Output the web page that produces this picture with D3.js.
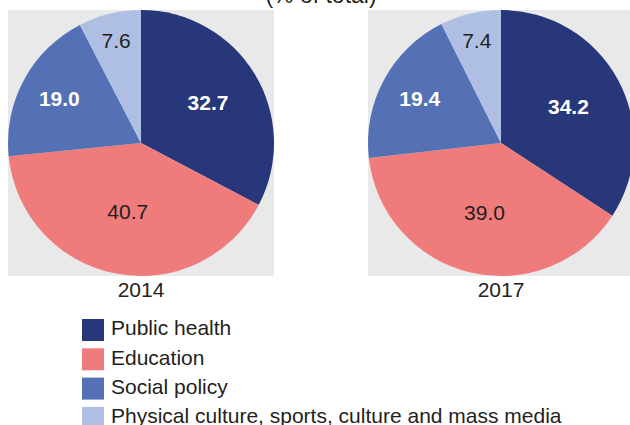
<!DOCTYPE html>
<html>
<head>
<meta charset="utf-8">
<script src="https://cdn.jsdelivr.net/npm/d3@7"></script>
<style>
  body { margin: 0; background: #fff; }
  svg { display: block; font-family: "Liberation Sans", Arial, sans-serif; }
</style>
</head>
<body>
<svg id="chart" width="630" height="425"></svg>
<script>
// data
const categories = [
  "Public health",
  "Education",
  "Social policy",
  "Physical culture, sports, culture and mass media"
];
const years = ["2014", "2017"];
const shares2014 = [32.7, 40.7, 19.0, 7.6];
const shares2017 = [34.2, 39.0, 19.4, 7.4];
const subtitle = "(% of total)";

const seriesByYear = [shares2014, shares2017];

const svg = d3.select("#chart");
const radius = 133;
const pieY = 143;

// pie centres placed by a point scale over the years
const xScale = d3.scalePoint()
  .domain(years)
  .range([141, 501]);

const color = d3.scaleOrdinal()
  .domain(categories)
  .range(["#28367a", "#f07b7b", "#5571b5", "#aebfe3"]);

// white bold labels on the dark slices, dark on the light ones
const labelFill = d3.scaleOrdinal()
  .domain(categories)
  .range(["#ffffff", "#231f20", "#ffffff", "#231f20"]);
const labelWeight = d3.scaleOrdinal()
  .domain(categories)
  .range(["bold", "normal", "bold", "normal"]);

const pie = d3.pie()
  .sort(null)
  .value(d => d.value);

const arc = d3.arc()
  .innerRadius(0)
  .outerRadius(radius);

const fmt = d3.format(".1f");

// subtitle, cut off at the top as in the source
svg.append("text")
  .attr("x", 321)
  .attr("y", 3)
  .attr("text-anchor", "middle")
  .attr("fill", "#231f20")
  .style("font-size", "23px")
  .text(subtitle);

years.forEach((year, yi) => {
  const cx = xScale(year);
  const rows = categories.map((c, i) => ({ category: c, value: seriesByYear[yi][i] }));

  const g = svg.append("g")
    .attr("transform", `translate(${cx},${pieY})`);

  // grey square behind each pie
  g.append("rect")
    .attr("x", -radius)
    .attr("y", -radius)
    .attr("width", radius * 2)
    .attr("height", radius * 2)
    .attr("fill", "#e9e9e9");

  const arcs = pie(rows);

  g.selectAll("path.slice")
    .data(arcs)
    .join("path")
    .attr("class", "slice")
    .attr("d", arc)
    .attr("fill", d => color(d.data.category));

  // smaller slices get their label pushed further out
  g.selectAll("text.value")
    .data(arcs)
    .join("text")
    .attr("class", "value")
    .attr("transform", d => {
      const r = radius * (0.85 - 0.008 * d.data.value);
      const a = (d.startAngle + d.endAngle) / 2;
      return `translate(${r * Math.sin(a)},${-r * Math.cos(a)})`;
    })
    .attr("dy", "0.35em")
    .attr("text-anchor", "middle")
    .attr("fill", d => labelFill(d.data.category))
    .style("font-weight", d => labelWeight(d.data.category))
    .style("font-size", "21px")
    .text(d => fmt(d.data.value));

  svg.append("text")
    .attr("x", cx)
    .attr("y", 296.5)
    .attr("text-anchor", "middle")
    .attr("fill", "#231f20")
    .style("font-size", "21px")
    .text(year);
});

// legend
const legend = svg.append("g")
  .attr("transform", "translate(82,319)");

legend.selectAll("g.legend-row")
  .data(categories)
  .join("g")
  .attr("class", "legend-row")
  .attr("transform", (d, i) => `translate(0,${i * 29.3})`)
  .each(function(d) {
    const row = d3.select(this);
    row.append("rect")
      .attr("width", 22)
      .attr("height", 22)
      .attr("fill", color(d));
    row.append("text")
      .attr("x", 29)
      .attr("y", 16.3)
      .attr("fill", "#231f20")
      .style("font-size", "21px")
      .text(d);
  });
</script>
</body>
</html>
